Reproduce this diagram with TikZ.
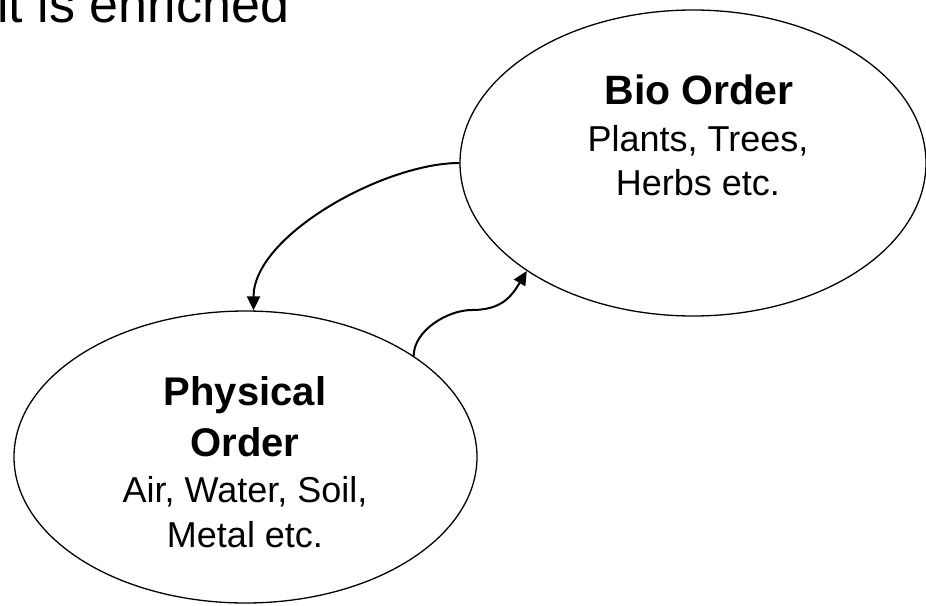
\documentclass[tikz,border=0pt]{standalone}
\usepackage{fontspec}
\setmainfont{Liberation Sans}
\usetikzlibrary{arrows.meta,shapes.geometric}
\tikzset{
  orderellipse/.style={draw, ellipse, line width=1.3pt, inner sep=0pt},
  arrowline/.style={line width=2pt, -{Triangle[length=14pt,width=13pt]}},
  heading/.style={anchor=base, inner sep=0pt, font=\fontsize{40}{48}\selectfont\bfseries},
  bodytext/.style={anchor=base, inner sep=0pt, font=\fontsize{36}{43}\selectfont},
  titletext/.style={anchor=base west, inner sep=0pt, font=\fontsize{52}{62}\selectfont},
}
\begin{document}
\begin{tikzpicture}[x=1pt,y=-1pt]
\useasboundingbox (0,0) rectangle (926,605);
\clip (0,0) rectangle (926,605);
\fill[white] (0,0) rectangle (926,605);

\node[titletext] (title) at (-3,22) {it is enriched};

\node[orderellipse, minimum width=466pt, minimum height=306pt] (bio) at (693,163) {};
\node[heading, font=\fontsize{41}{49}\selectfont\bfseries] (biohead) at (699,104) {Bio Order};
\node[bodytext] (bioline1) at (698,151) {Plants, Trees,};
\node[bodytext] (bioline2) at (698,195) {Herbs etc.};

\node[orderellipse, minimum width=463pt, minimum height=292pt] (phys) at (245.5,457) {};
\node[heading] (physhead1) at (245,405) {Physical};
\node[heading] (physhead2) at (245,456) {Order};
\node[bodytext] (physline1) at (245,502) {Air, Water, Soil,};
\node[bodytext] (physline2) at (245,547) {Metal etc.};

\coordinate (bend) at (472,310);

\draw[arrowline] (bio.west) .. controls +(-75,0) and +(0,-75) .. ([xshift=8pt]phys.north);
\draw[line width=2pt] (phys.31) .. controls +(0,-25) and +(-25,0) .. (bend);
\draw[arrowline] (bend) .. controls +(30,0) and +(-15,25) .. (bio.213);
\end{tikzpicture}
\end{document}
